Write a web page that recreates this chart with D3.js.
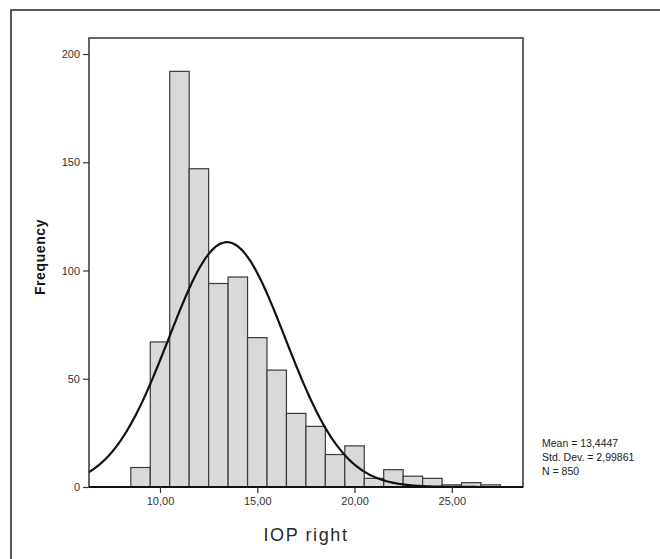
<!DOCTYPE html>
<html>
<head>
<meta charset="utf-8">
<script src="https://cdn.jsdelivr.net/npm/d3@7"></script>
<style>
  body { margin: 0; background: #fff; }
  svg { display: block; font-family: "Liberation Sans", Arial, sans-serif; }
</style>
</head>
<body>
<div id="chartArea"></div>
<script>
// histogram of IOP right with fitted normal curve

var binCenters = [9, 10, 11, 12, 13, 14, 15, 16, 17, 18, 19, 20, 21, 22, 23, 24, 25, 26, 27];
var counts     = [9, 67, 192, 147, 94, 97, 69, 54, 34, 28, 15, 19, 4, 8, 5, 4, 1, 2, 1];
var yTicks = [0, 50, 100, 150, 200];
var xTicks = [10, 15, 20, 25];
var statLines = ["Mean = 13,4447", "Std. Dev. = 2,99861", "N = 850"];
var mean = 13.4447, sd = 2.99861, n = 850, binWidth = 1;

var width = 660, height = 559;

var svg = d3.select("#chartArea").append("svg")
    .attr("width", width)
    .attr("height", height);

// outer frame (runs off the right and bottom)
svg.append("rect")
    .attr("x", 11).attr("y", 10)
    .attr("width", 680).attr("height", 580)
    .attr("fill", "none")
    .attr("stroke", "#222")
    .attr("stroke-width", 1.5);

var x = d3.scaleLinear().domain([6.35, 28.66]).range([89, 523]);
var y = d3.scaleLinear().domain([0, 207.4]).range([487, 38]);

// bars
svg.selectAll(".bar")
    .data(binCenters)
    .enter().append("rect")
    .attr("class", "bar")
    .attr("x", function(d) { return x(d - binWidth / 2); })
    .attr("width", function(d) { return x(d + binWidth / 2) - x(d - binWidth / 2); })
    .attr("y", function(d, i) { return y(counts[i]); })
    .attr("height", function(d, i) { return y(0) - y(counts[i]); })
    .attr("fill", "#d9d9d9")
    .attr("stroke", "#3a3a3a")
    .attr("stroke-width", 1.2);

// normal curve from the stats shown in the legend
var curvePts = d3.range(6.35, 28.66, 0.05).concat([28.66]);
var line = d3.line()
    .x(function(d) { return x(d); })
    .y(function(d) {
        var z = (d - mean) / sd;
        return y(n * binWidth / (sd * Math.sqrt(2 * Math.PI)) * Math.exp(-0.5 * z * z));
    })
    .curve(d3.curveBasis);

svg.append("path")
    .datum(curvePts)
    .attr("d", line)
    .attr("fill", "none")
    .attr("stroke", "#111")
    .attr("stroke-width", 2.2);

// plot frame
svg.append("rect")
    .attr("x", 89).attr("y", 38)
    .attr("width", 434).attr("height", 449)
    .attr("fill", "none")
    .attr("stroke", "#333")
    .attr("stroke-width", 1.5);
svg.append("line")
    .attr("x1", 89).attr("x2", 523)
    .attr("y1", 487).attr("y2", 487)
    .attr("stroke", "#111")
    .attr("stroke-width", 2);

// axes
var yAxis = svg.append("g")
    .attr("transform", "translate(89,0)")
    .call(d3.axisLeft(y).tickValues(yTicks).tickSize(6).tickPadding(3));
var xAxis = svg.append("g")
    .attr("transform", "translate(0,487)")
    .call(d3.axisBottom(x).tickValues(xTicks).tickSize(6).tickPadding(4)
        .tickFormat(function(d) { return d + ",00"; }));

[yAxis, xAxis].forEach(function(g) {
    g.select(".domain").remove();
    g.selectAll("line").attr("stroke", "#333").attr("stroke-width", 1.2);
    g.selectAll("text")
        .attr("font-size", "11px")
        .attr("font-family", "'Liberation Sans', Arial, sans-serif")
        .attr("fill", "#333");
});

// axis titles
svg.append("text")
    .attr("transform", "translate(45,257)rotate(-90)")
    .attr("text-anchor", "middle")
    .attr("font-size", "14px")
    .attr("font-weight", "bold")
    .attr("letter-spacing", "0.6px")
    .attr("fill", "#111")
    .text("Frequency");

svg.append("text")
    .attr("x", 306)
    .attr("y", 541)
    .attr("text-anchor", "middle")
    .attr("font-size", "18px")
    .attr("letter-spacing", "1.6px")
    .attr("fill", "#2a2a2a")
    .text("IOP right");

// stats block
svg.append("g").selectAll("text")
    .data(statLines)
    .enter().append("text")
    .attr("x", 542)
    .attr("y", function(d, i) { return 447 + i * 14; })
    .attr("font-size", "10.5px")
    .attr("fill", "#222")
    .text(function(d) { return d; });
</script>
</body>
</html>
